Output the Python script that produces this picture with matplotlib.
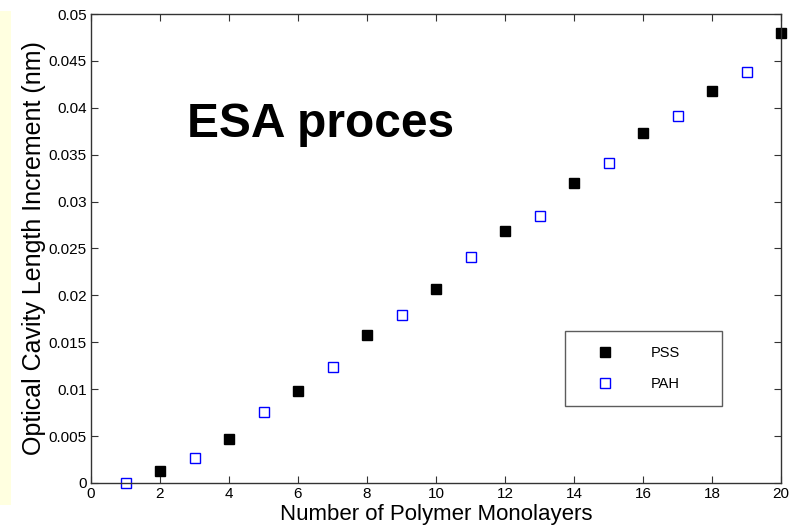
import matplotlib
matplotlib.use('Agg')
import matplotlib.pyplot as plt
import matplotlib.patches as mpatches

plt.rcParams['font.family'] = ['Liberation Sans', 'DejaVu Sans']

# data
pss_layers = [2, 4, 6, 8, 10, 12, 14, 16, 18, 20]
pss_incr = [0.0013, 0.0047, 0.0098, 0.0158, 0.0207, 0.0269, 0.0320, 0.0373, 0.0418, 0.0480]
pah_layers = [1, 3, 5, 7, 9, 11, 13, 15, 17, 19]
pah_incr = [0.0000, 0.0027, 0.0076, 0.0124, 0.0179, 0.0241, 0.0285, 0.0341, 0.0391, 0.0438]

xticks = list(range(0, 21, 2))
yticks = [0, 0.005, 0.01, 0.015, 0.02, 0.025, 0.03, 0.035, 0.04, 0.045, 0.05]
ytick_labels = ['0', '0.005', '0.01', '0.015', '0.02', '0.025', '0.03', '0.035', '0.04', '0.045', '0.05']

fig = plt.figure(figsize=(8, 5.29), dpi=100)
# pale yellow strip on the left edge
fig.patches.append(mpatches.Rectangle((0, 0.045), 0.014, 0.935, transform=fig.transFigure,
                                      facecolor='#ffffe0', edgecolor='none', zorder=-1))

ax = fig.add_axes([0.11375, 0.087, 0.8625, 0.8865])
ax.plot(pss_layers, pss_incr, 's', color='black', markersize=7.2, label='PSS', clip_on=False)
ax.plot(pah_layers, pah_incr, 's', markerfacecolor='white', markeredgecolor='#0000ff',
        markeredgewidth=1.0, markersize=6.8, label='PAH', clip_on=False)

ax.set_xlim(0, 20)
ax.set_ylim(0, 0.05)
ax.set_xticks(xticks)
ax.set_yticks(yticks)
ax.set_yticklabels(ytick_labels)
ax.tick_params(direction='in', top=True, right=True, length=5, width=0.8,
               labelsize=11, color='#333333', pad=3)
for s in ax.spines.values():
    s.set_color('#333333')
    s.set_linewidth(1.0)

ax.set_xlabel('Number of Polymer Monolayers', fontsize=16, labelpad=2)
ax.set_ylabel('Optical Cavity Length Increment (nm)', fontsize=18, labelpad=2)

ax.text(2.78, 0.0369, 'ESA proces', fontsize=34.5, fontweight='bold', ha='left', va='baseline')

leg = ax.legend(loc='lower left', bbox_to_anchor=(0.687, 0.164, 0.2275, 0.1706), mode='expand',
                borderaxespad=0, fancybox=False, fontsize=10.5, handlelength=3.5, handletextpad=1.4,
                labelspacing=1.2, borderpad=1.0, numpoints=1)
leg.get_frame().set_edgecolor('#333333')
leg.get_frame().set_linewidth(1.0)

fig.savefig('out.png', dpi=100)
